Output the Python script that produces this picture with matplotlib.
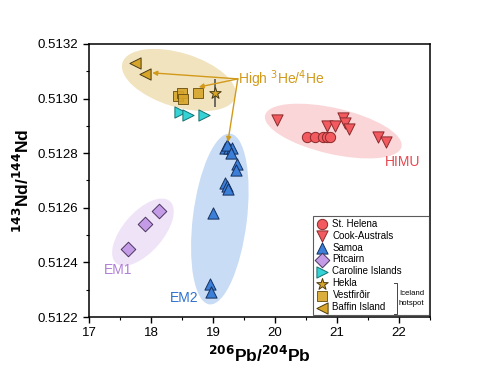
import matplotlib
matplotlib.use("Agg")
import matplotlib.pyplot as plt
from matplotlib.patches import Ellipse
from matplotlib.transforms import ScaledTranslation
from matplotlib.ticker import MultipleLocator, FormatStrFormatter

plt.rcParams['font.family'] = ['Liberation Sans', 'DejaVu Sans']

# ---- data ----
st_helena_x = [20.52, 20.65, 20.77, 20.84, 20.89]
st_helena_y = [0.51286, 0.51286, 0.51286, 0.51286, 0.51286]

cook_x = [20.03, 20.84, 20.97, 21.10, 21.13, 21.20, 21.66, 21.79]
cook_y = [0.51292, 0.51290, 0.51290, 0.51293, 0.51291, 0.51289, 0.51286, 0.51284]

samoa_x = [19.19, 19.26, 19.31, 19.22, 19.29, 19.39, 19.37, 19.19, 19.23, 19.24, 19.00, 18.95, 18.97]
samoa_y = [0.51282, 0.51282, 0.51282, 0.51283, 0.51280, 0.51276, 0.51274, 0.51269, 0.51268, 0.51267,
           0.51258, 0.51232, 0.51229]

pitcairn_x = [17.63, 17.90, 18.13]
pitcairn_y = [0.51245, 0.51254, 0.51259]

caroline_x = [18.47, 18.60, 18.85]
caroline_y = [0.51295, 0.51294, 0.51294]

hekla_x = [19.03]
hekla_y = [0.51302]
hekla_err = [0.00005]

vestfirdir_x = [18.44, 18.50, 18.52, 18.76]
vestfirdir_y = [0.51301, 0.51302, 0.51300, 0.51302]

baffin_x = [17.74, 17.90]
baffin_y = [0.51313, 0.51309]

xticks = [17, 18, 19, 20, 21, 22]
yticks = [0.5122, 0.5124, 0.5126, 0.5128, 0.5130, 0.5132]

# ---- colours ----
c_red = '#f25a5f'
c_blue = '#3b7fd8'
c_purple = '#c49be6'
c_cyan = '#35d3d6'
c_gold = '#d6a52a'
c_gold_text = '#d29a1a'

fig = plt.figure(figsize=(5.0, 3.82), dpi=100)
ax = fig.add_axes([0.178, 0.170, 0.682, 0.715])
ax.set_xlim(17, 22.5)
ax.set_ylim(0.5122, 0.5132)


def add_ellipse(cx, cy, w_px, h_px, ang, color):
    tr = fig.dpi_scale_trans + ScaledTranslation(cx, cy, ax.transData)
    e = Ellipse((0, 0), w_px / 100.0, h_px / 100.0, angle=ang, transform=tr,
                facecolor=color, edgecolor='none', zorder=1)
    ax.add_patch(e)


add_ellipse(18.45, 0.513068, 118, 54, -17, '#f2e3bf')
add_ellipse(19.11, 0.512559, 172, 54, 83, '#c9dcf5')
add_ellipse(20.94, 0.512881, 140, 46, -13, '#fbd6d8')
add_ellipse(17.87, 0.512511, 82, 40, 49, '#efe4f7')

kw = dict(linewidths=0.7, zorder=3)
ax.scatter(st_helena_x, st_helena_y, s=55, marker='o', c=c_red, edgecolors='#8a2a2a',
           label='St. Helena', **kw)
ax.scatter(cook_x, cook_y, s=65, marker='v', c=c_red, edgecolors='#8a2a2a',
           label='Cook-Australs', **kw)
ax.scatter(samoa_x, samoa_y, s=65, marker='^', c=c_blue, edgecolors='#14305e',
           label='Samoa', **kw)
ax.scatter(pitcairn_x, pitcairn_y, s=55, marker='D', c=c_purple, edgecolors='#4a3560',
           label='Pitcairn', **kw)
ax.scatter(caroline_x, caroline_y, s=65, marker='>', c=c_cyan, edgecolors='#1a7070',
           label='Caroline Islands', **kw)
ax.errorbar(hekla_x, hekla_y, yerr=hekla_err, fmt='none', ecolor='#555555', elinewidth=1.2,
            capsize=0, zorder=2)
ax.scatter(hekla_x, hekla_y, s=75, marker='*', c=c_gold, edgecolors='#4a3a10',
           label='Hekla', **kw)
ax.scatter(vestfirdir_x, vestfirdir_y, s=60, marker='s', c=c_gold, edgecolors='#6a5010',
           alpha=0.9, label='Vestfirðir', **kw)
ax.scatter(baffin_x, baffin_y, s=65, marker='<', c=c_gold, edgecolors='#4a3a10',
           label='Baffin Island', **kw)

# arrows from High 3He/4He
origin = (19.40, 0.513072)
targets = [(18.02, 0.513094), (18.77, 0.513042), (19.24, 0.512841)]
for tx, ty in targets:
    ax.annotate('', xy=(tx, ty), xytext=origin,
                arrowprops=dict(arrowstyle='-|>', color=c_gold_text, lw=1.0,
                                mutation_scale=7, shrinkA=0, shrinkB=0), zorder=4)
ax.text(19.41, 0.513072, 'High $^{3}$He/$^{4}$He', color=c_gold_text, fontsize=10,
        ha='left', va='center', zorder=5)

ax.text(22.06, 0.512768, 'HIMU', color='#e8474f', fontsize=10, ha='center', va='center')
ax.text(17.47, 0.512372, 'EM1', color='#b07fd8', fontsize=10, ha='center', va='center')
ax.text(18.53, 0.51227, 'EM2', color='#2f72d0', fontsize=10, ha='center', va='center')

# axes styling
ax.xaxis.set_minor_locator(MultipleLocator(0.5))
ax.yaxis.set_minor_locator(MultipleLocator(0.0001))
ax.yaxis.set_major_formatter(FormatStrFormatter('%.4f'))
ax.set_xticks(xticks)
ax.set_yticks(yticks)
ax.tick_params(which='both', direction='out', top=False, right=False, labelsize=9.5)
ax.tick_params(which='major', length=4, width=1.0)
ax.tick_params(which='minor', length=2.5, width=0.8)
for sp in ax.spines.values():
    sp.set_linewidth(1.1)

ax.set_xlabel('$^{\\mathbf{206}}$Pb/$^{\\mathbf{204}}$Pb', fontsize=12.5, fontweight='bold', labelpad=4)
ax.set_ylabel('$^{\\mathbf{143}}$Nd/$^{\\mathbf{144}}$Nd', fontsize=12.5, fontweight='bold', labelpad=4)

leg = ax.legend(loc='lower left', bbox_to_anchor=(0.657, 0.007, 0.34, 0.345), mode='expand',
                fontsize=7, frameon=True, fancybox=False, edgecolor='#333333',
                handletextpad=0.4, labelspacing=0.2, borderpad=0.3, handlelength=1.3,
                borderaxespad=0.0)
leg.get_frame().set_linewidth(0.8)
leg.set_zorder(5)

# Iceland hotspot bracket (in axes fraction)
bx = 0.903
y_top, y_bot = 0.124, 0.012
ax.plot([bx - 0.008, bx, bx, bx - 0.008], [y_top, y_top, y_bot, y_bot], transform=ax.transAxes,
        color='#444444', lw=0.7, zorder=6, clip_on=False)
ax.text(bx + 0.006, (y_top + y_bot) / 2, 'Iceland\nhotspot', transform=ax.transAxes,
        fontsize=5.6, ha='left', va='center', zorder=6, linespacing=1.5)

fig.savefig('out.png', dpi=100)
